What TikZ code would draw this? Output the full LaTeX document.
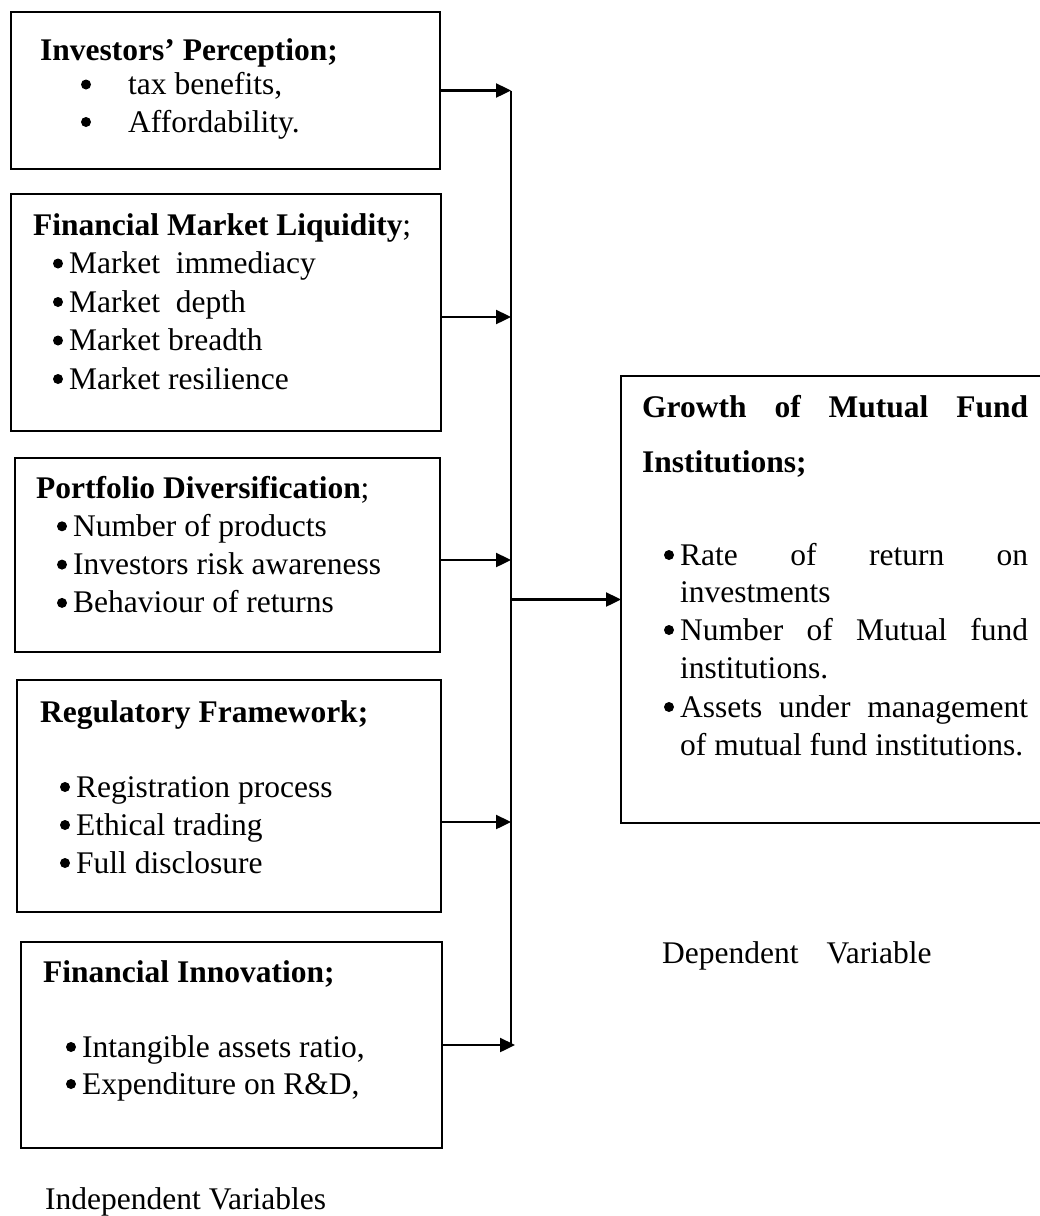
\documentclass[tikz,border=0pt]{standalone}
\usepackage{fontspec}
\setmainfont{Liberation Serif}
\usetikzlibrary{arrows.meta}
\tikzset{
    varbox/.style={draw, line width=1.8pt, inner sep=0pt, outer sep=0pt},
    txt/.style={anchor=base west, inner sep=0pt, font=\fontsize{31.5}{38}\selectfont},
    head/.style={anchor=base west, inner sep=0pt, font=\fontsize{31.5}{38}\selectfont\bfseries},
    feed/.style={line width=2.4pt, -{Triangle[length=15pt,width=14pt]}},
}
\newcommand{\bulletat}[2][11pt]{\fill ([xshift=-#1,yshift=10pt]#2.base west) circle (5pt)}
\begin{document}
\begin{tikzpicture}[x=1pt,y=-1pt]
    \useasboundingbox (0,0) rectangle (1040,1216);
    \clip (0,0) rectangle (1040,1216);
    % boxes
    \node[varbox, minimum width=429pt, minimum height=157pt] (inv) at (225.5,90.5) {};
    \node[varbox, minimum width=430pt, minimum height=237pt] (liq) at (226,312.5) {};
    \node[varbox, minimum width=425pt, minimum height=194pt] (port) at (227.5,555) {};
    \node[varbox, minimum width=424pt, minimum height=232pt] (reg) at (229,796) {};
    \node[varbox, minimum width=421pt, minimum height=206pt] (innov) at (231.5,1045) {};
    \node[varbox, minimum width=439pt, minimum height=447pt] (growth) at (840.5,599.5) {};
    % texts of the independent variables
    \node[head] (invT) at (40,60) {Investors’ Perception;};
    \foreach \t [count=\i] in {{tax benefits,}, {Affordability.}}{
        \node[txt] (inv-\i) at (128,57+37.5*\i) {\t};
        \bulletat[42pt]{inv-\i};
    }
    \node[txt] (liqT) at (33,235) {\textbf{Financial Market Liquidity};};
    \foreach \t [count=\i] in {Market\ \ immediacy, Market\ \ depth, Market breadth, Market resilience}{
        \node[txt] (liq-\i) at (69,235+38.5*\i) {\t};
        \bulletat{liq-\i};
    }
    \node[txt] (portT) at (36,498) {\textbf{Portfolio Diversification};};
    \foreach \t [count=\i] in {Number of products, Investors risk awareness, Behaviour of returns}{
        \node[txt] (port-\i) at (73,498+38.3*\i) {\t};
        \bulletat{port-\i};
    }
    \node[head] (regT) at (40,722) {Regulatory Framework;};
    \foreach \t [count=\i] in {Registration process, Ethical trading, Full disclosure}{
        \node[txt] (reg-\i) at (76,759+38*\i) {\t};
        \bulletat{reg-\i};
    }
    \node[head] (innovT) at (43,982) {Financial Innovation;};
    \foreach \t [count=\i] in {{Intangible assets ratio,}, {Expenditure on R\&D,}}{
        \node[txt] (innov-\i) at (82,1020+37*\i) {\t};
        \bulletat{innov-\i};
    }
    \node[txt] (indep) at (45,1209) {Independent Variables};
    % text of the dependent variable
    \node[head] (growthT) at (642,417) {\makebox[386pt][s]{Growth of Mutual Fund}};
    \node[head] (growthT2) at (642,472) {Institutions;};
    \node[txt] (growth-1) at (680,565) {\makebox[348pt][s]{Rate of return on}};
    \node[txt] (growth-1b) at (680,602) {investments};
    \node[txt] (growth-2) at (680,640) {\makebox[348pt][s]{Number of Mutual fund}};
    \node[txt] (growth-2b) at (680,678) {institutions.};
    \node[txt] (growth-3) at (680,717) {\makebox[348pt][s]{Assets under management}};
    \node[txt] (growth-3b) at (680,755) {of mutual fund institutions.};
    \foreach \i in {1,2,3}{
        \bulletat{growth-\i};
    }
    \node[txt] (dep) at (662,963) {Dependent\hspace{28pt}Variable};
    % connectors
    \coordinate (bus) at (511,0);
    \draw[line width=2pt] (inv.east -| bus) -- (innov.east -| bus);
    \draw[feed] (inv.east) -- (inv.east -| bus);
    \draw[feed] ([yshift=-4.5pt]liq.east) -- ([yshift=-4.5pt]liq.east -| bus);
    \draw[feed] ([yshift=-5pt]port.east) -- ([yshift=-5pt]port.east -| bus);
    \draw[feed] ([yshift=-26pt]reg.east) -- ([yshift=-26pt]reg.east -| bus);
    \draw[feed] (innov.east) -- ([xshift=4pt]innov.east -| bus);
    \draw[feed] (growth.west -| bus) -- (growth.west);
\end{tikzpicture}
\end{document}
